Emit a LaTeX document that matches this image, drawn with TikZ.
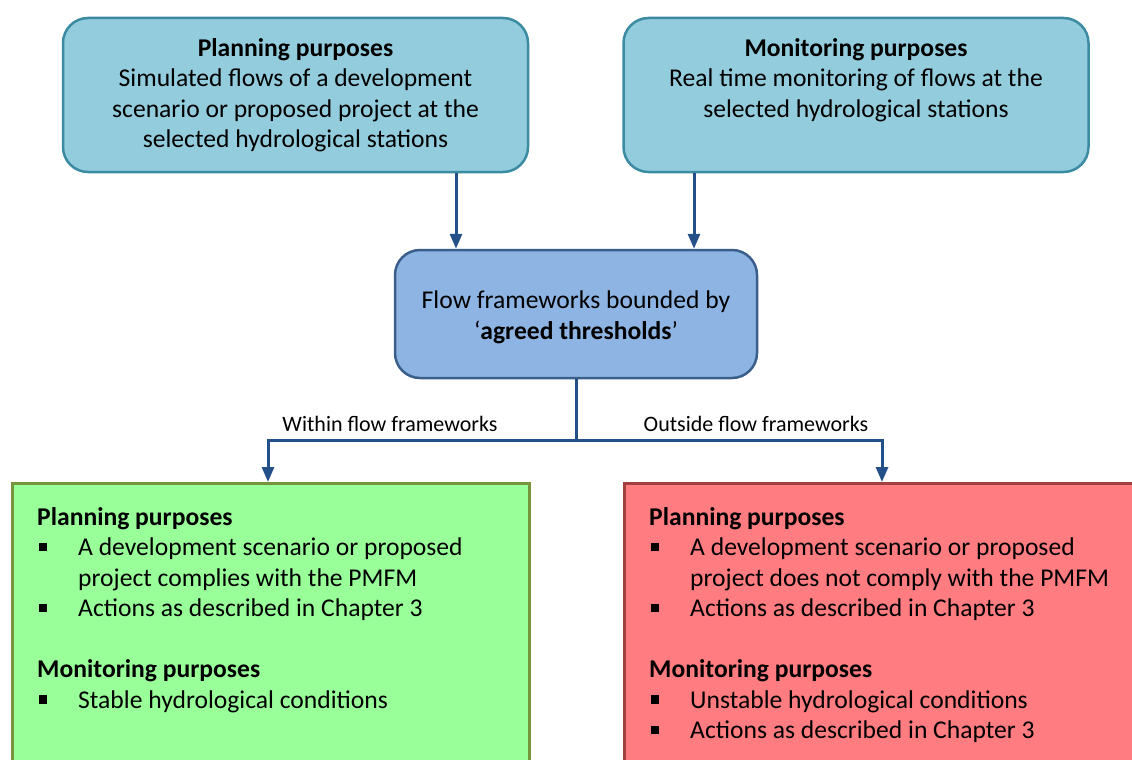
\documentclass[tikz,border=0pt]{standalone}
\usepackage{fontspec}
\setmainfont{Carlito}
\usetikzlibrary{arrows.meta}
\definecolor{topfill}{HTML}{93CDDD}
\definecolor{topdraw}{HTML}{3B8CA3}
\definecolor{midfill}{HTML}{8EB4E3}
\definecolor{middraw}{HTML}{3A5F8B}
\definecolor{arrcol}{HTML}{24508A}
\definecolor{grfill}{HTML}{99FF99}
\definecolor{grdraw}{HTML}{77933C}
\definecolor{rdfill}{HTML}{FF7C80}
\definecolor{rddraw}{HTML}{A0403F}
\newcommand\bul{\makebox[41pt][l]{\hspace{1.5pt}\rule[4.5pt]{8.5pt}{8.5pt}}}
\newcommand\ind{\hspace*{41pt}}
\begin{document}
\begin{tikzpicture}[x=1pt,y=-1pt,
  mainfont/.style={font=\fontsize{25.6}{30.5}\selectfont},
  topbox/.style={rounded corners=25pt, draw=topdraw, fill=topfill, line width=2.5pt,
    minimum width=465pt, minimum height=154pt, inner sep=0pt},
  midbox/.style={rounded corners=25pt, draw=middraw, fill=midfill, line width=2.5pt,
    minimum width=362pt, minimum height=128pt, inner sep=0pt},
  resbox/.style={line width=2.5pt, minimum height=330pt, anchor=north west, inner sep=0pt},
  toptext/.style={mainfont, anchor=north, align=center, inner sep=0pt},
  midtext/.style={mainfont, align=center, inner sep=0pt},
  bodytext/.style={mainfont, anchor=north west, align=left, inner sep=0pt},
  lbl/.style={font=\fontsize{22}{26}\selectfont, inner sep=0pt},
  conn/.style={draw=arrcol, line width=3pt},
  arr/.style={conn, -{Triangle[length=15pt,width=12pt]}}
]
\fill[white] (0,0) rectangle (1132,760);
\clip (0,0) rectangle (1132,760);

\node[topbox] (tl) at (295.5,95) {};
\node[topbox] (tr) at (856,95) {};
\node[toptext] (tltxt) at (295.5,38) {\textbf{Planning purposes}\\Simulated flows of a development\\scenario or proposed project at the\\selected hydrological stations};
\node[toptext] (trtxt) at (856,38) {\textbf{Monitoring purposes}\\Real time monitoring of flows at the\\selected hydrological stations};
\node[midbox] (mid) at (576,314) {};
\node[midtext] (midtxt) at (576,317.5) {Flow frameworks bounded by\\‘\textbf{agreed thresholds}’};

\node[resbox, draw=grdraw, fill=grfill, minimum width=517pt] (gr) at (11,482) {};
\node[resbox, draw=rddraw, fill=rdfill, minimum width=520pt] (rd) at (623,482) {};

\node[bodytext] (gtxt) at (37,507) {\textbf{Planning purposes}\\
\bul A development scenario or proposed\\
\ind project complies with the PMFM\\
\bul Actions as described in Chapter 3\\[30.5pt]
\textbf{Monitoring purposes}\\
\bul Stable hydrological conditions};
\node[bodytext] (rtxt) at (649,507) {\textbf{Planning purposes}\\
\bul A development scenario or proposed\\
\ind project does not comply with the PMFM\\
\bul Actions as described in Chapter 3\\[30.5pt]
\textbf{Monitoring purposes}\\
\bul Unstable hydrological conditions\\
\bul Actions as described in Chapter 3};

\coordinate (a1) at (456,0);
\coordinate (a2) at (694,0);
\coordinate (jn) at (576,440);
\coordinate (jl) at (268,440);
\coordinate (jr) at (882,440);

\draw[arr] (tl.south -| a1) -- (mid.north -| a1);
\draw[arr] (tr.south -| a2) -- (mid.north -| a2);
\draw[conn] (mid.south) -- (jn);
\draw[arr] (jn) -- (jl) -- (gr.north -| jl);
\draw[arr] (jn) -- (jr) -- (rd.north -| jr);

\node[lbl] (lw) at (390,424) {Within flow frameworks};
\node[lbl] (lo) at (756,424) {Outside flow frameworks};
\end{tikzpicture}
\end{document}
